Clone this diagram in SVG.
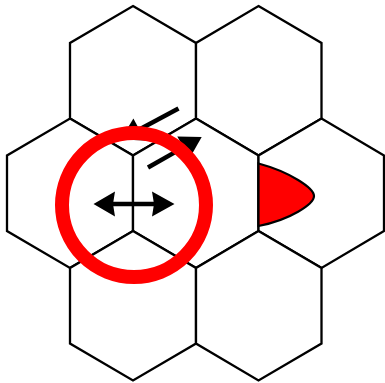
<svg xmlns="http://www.w3.org/2000/svg" width="385" height="383" viewBox="0 0 385 383">
  <style>
    .hex { fill: #ffffff; stroke: #000000; stroke-width: 2.3; stroke-linejoin: miter; }
    .shaft { stroke: #000000; stroke-width: 4.5; fill: none; }
    .head { fill: #000000; stroke: none; }
    .ring { fill: none; stroke: #ff0000; stroke-width: 14; }
    .blob { fill: #ff0000; stroke: #000000; stroke-width: 2.2; }
  </style>
  <rect width="385" height="383" fill="#ffffff"/>
  <g id="hex-top-left"><polygon class="hex" points="133,6 196,43 196,118.5 133,155.5 70,118.5 70,43"/></g>
  <g id="hex-top-right"><polygon class="hex" points="258.5,6 321.5,43 321.5,118.5 258.5,155.5 196,118.5 196,43"/></g>
  <g id="hex-mid-left"><polygon class="hex" points="70,118.5 133,155.5 133,231 70,268 7,231 7,155.5"/></g>
  <g id="hex-mid-center"><polygon class="hex" points="196,118.5 258.5,155.5 258.5,231 196,268 133,231 133,155.5"/></g>
  <g id="hex-mid-right"><polygon class="hex" points="321.5,118.5 384,155.5 384,231 321.5,268 258.5,231 258.5,155.5"/></g>
  <g id="hex-bottom-left"><polygon class="hex" points="133,231 196,268 196,343.5 133,380.5 70,343.5 70,268"/></g>
  <g id="hex-bottom-right"><polygon class="hex" points="258.5,231 321.5,268 321.5,343.5 258.5,380.5 196,343.5 196,268"/></g>
  <g id="red-lobe"><path class="blob" d="M258.5,163.5 C290,172 314,188 314,196 C314,204 290,220 258.5,226 Z"/></g>
  <g id="connectors">
    <line class="shaft" x1="178.5" y1="108.6" x2="139.3" y2="129.5"/>
    <polygon class="head" points="120.8,139.4 133.4,118.5 145.2,140.5"/>
    <line class="shaft" x1="148" y1="167.5" x2="183.5" y2="147.4"/>
    <polygon class="head" points="201.7,137 177.3,136.5 189.6,158.3"/>
  </g>
  <g id="red-ring"><circle class="ring" cx="134" cy="205" r="72"/></g>
  <g id="double-arrow">
    <line class="shaft" x1="112" y1="204" x2="155" y2="204"/>
    <polygon class="head" points="93.5,204 115,191.5 113,204 115,216.5"/>
    <polygon class="head" points="174.5,204 152,191.5 154,204 152,216.5"/>
  </g>
</svg>
